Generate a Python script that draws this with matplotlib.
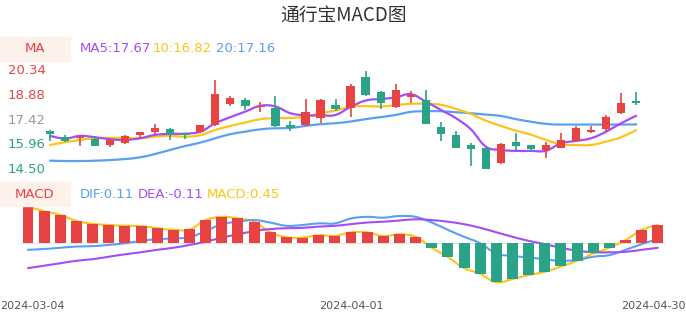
import numpy as np
import matplotlib
matplotlib.use("Agg")
import matplotlib.pyplot as plt
from matplotlib.path import Path
from matplotlib.patches import PathPatch, Rectangle

# candle data (open, close, high, low), 40 trading days
opens = [16.79, 16.43, 16.34, 16.28, 15.96, 16.08, 16.55, 16.71, 16.89, 16.64,
         16.71, 17.13, 18.36, 18.61, 18.18, 18.16, 17.11, 17.13, 17.53, 18.30,
         18.12, 19.99, 19.07, 18.18, 18.77, 18.59, 16.99, 16.52, 15.92, 15.78,
         14.89, 16.12, 15.92, 15.65, 15.75, 16.20, 16.71, 16.91, 17.86, 18.57]
closes = [16.60, 16.18, 16.36, 15.90, 16.24, 16.48, 16.71, 16.93, 16.60, 16.52,
          17.11, 18.97, 18.75, 18.22, 18.25, 17.07, 16.97, 17.88, 18.59, 18.06,
          19.44, 18.93, 18.42, 19.22, 18.91, 17.17, 16.60, 15.75, 15.72, 14.52,
          16.00, 15.88, 15.72, 15.92, 16.24, 16.95, 16.83, 17.62, 18.45, 18.45]
highs = [16.83, 16.54, 16.48, 16.48, 16.26, 16.52, 16.73, 17.17, 16.97, 16.64,
         17.15, 19.80, 18.85, 18.75, 18.51, 18.85, 17.37, 18.67, 18.67, 18.65,
         19.56, 20.34, 19.16, 19.56, 19.15, 19.21, 17.31, 16.77, 16.04, 15.78,
         16.08, 16.67, 15.96, 16.14, 16.64, 17.07, 17.07, 17.72, 19.01, 19.09]
lows = [16.20, 16.14, 15.90, 15.90, 15.84, 16.02, 16.34, 16.60, 16.24, 16.28,
        16.65, 17.09, 18.22, 18.02, 17.90, 17.03, 16.79, 17.09, 17.23, 17.98,
        17.62, 18.85, 18.10, 18.12, 18.45, 17.17, 16.18, 15.75, 14.70, 14.50,
        14.80, 15.65, 15.51, 15.17, 15.75, 16.20, 16.67, 16.73, 17.78, 18.33]

ma5 = [16.48, 16.32, 16.48, 16.40, 16.28, 16.24, 16.34, 16.54, 16.60, 16.61,
       16.73, 17.23, 17.59, 17.92, 18.26, 18.22, 17.82, 17.70, 17.70, 17.72,
       18.20, 18.57, 18.67, 18.75, 18.95, 18.51, 18.02, 17.53, 16.87, 15.84,
       15.65, 15.59, 15.59, 15.60, 16.04, 16.18, 16.34, 16.73, 17.23, 17.67]
ma10 = [15.94, 16.10, 16.24, 16.34, 16.36, 16.36, 16.34, 16.43, 16.48, 16.43,
        16.52, 16.83, 17.07, 17.27, 17.47, 17.53, 17.54, 17.62, 17.82, 17.98,
        18.20, 18.24, 18.22, 18.30, 18.38, 18.38, 18.32, 18.08, 17.78, 17.38,
        17.07, 16.79, 16.55, 16.24, 15.98, 15.94, 15.94, 16.14, 16.40, 16.82]
ma20 = [15.01, 14.99, 14.99, 15.01, 15.05, 15.11, 15.21, 15.41, 15.65, 15.88,
        16.08, 16.34, 16.58, 16.73, 16.87, 16.93, 16.95, 17.07, 17.17, 17.23,
        17.33, 17.47, 17.59, 17.72, 17.90, 17.94, 17.94, 17.88, 17.82, 17.74,
        17.66, 17.47, 17.32, 17.19, 17.15, 17.15, 17.15, 17.15, 17.15, 17.16]

macd = [0.90, 0.79, 0.70, 0.55, 0.48, 0.45, 0.43, 0.42, 0.37, 0.33,
        0.34, 0.57, 0.65, 0.61, 0.53, 0.27, 0.15, 0.14, 0.20, 0.18,
        0.27, 0.27, 0.18, 0.22, 0.16, -0.11, -0.34, -0.61, -0.75, -0.96,
        -0.88, -0.78, -0.70, -0.57, -0.43, -0.25, -0.11, 0.08, 0.33, 0.45]
dif = [-0.16, -0.14, -0.11, -0.08, -0.07, -0.04, 0.00, 0.06, 0.10, 0.12,
       0.15, 0.30, 0.47, 0.53, 0.57, 0.51, 0.43, 0.45, 0.49, 0.49,
       0.61, 0.65, 0.63, 0.67, 0.65, 0.51, 0.33, 0.16, 0.00, -0.25,
       -0.31, -0.35, -0.39, -0.43, -0.41, -0.33, -0.29, -0.16, -0.02, 0.11]
dea = [-0.61, -0.55, -0.49, -0.43, -0.39, -0.33, -0.27, -0.22, -0.16, -0.11,
       -0.04, 0.04, 0.14, 0.22, 0.30, 0.35, 0.37, 0.38, 0.41, 0.43,
       0.47, 0.51, 0.53, 0.56, 0.59, 0.57, 0.53, 0.47, 0.38, 0.27,
       0.16, 0.06, -0.02, -0.11, -0.18, -0.22, -0.22, -0.21, -0.16, -0.11]

x_labels = {0: "2024-03-04", 20: "2024-04-01", 39: "2024-04-30"}
y_ticks = [20.34, 18.88, 17.42, 15.96, 14.50]

RED = "#e84343"
GREEN = "#2aa386"
PURPLE = "#a64cf5"
YELLOW = "#fcc419"
BLUE = "#5aa0f0"

W, H = 686, 320


def fx(px):
    return px / W


def fy(py):
    return 1 - py / H


def smooth_path(xs, ys, t=0.2):
    """Catmull-Rom style bezier through the points (like echarts smooth lines)."""
    xs = np.asarray(xs, float)
    ys = np.asarray(ys, float)
    n = len(xs)
    verts = [(xs[0], ys[0])]
    codes = [Path.MOVETO]
    for i in range(n - 1):
        p0 = i - 1 if i > 0 else i
        p3 = i + 2 if i + 2 < n else i + 1
        c1 = (xs[i] + (xs[i + 1] - xs[p0]) * t, ys[i] + (ys[i + 1] - ys[p0]) * t)
        c2 = (xs[i + 1] - (xs[p3] - xs[i]) * t, ys[i + 1] - (ys[p3] - ys[i]) * t)
        verts += [c1, c2, (xs[i + 1], ys[i + 1])]
        codes += [Path.CURVE4] * 3
    return Path(verts, codes)


def draw_line(ax, xs, ys, color, lw):
    ax.add_patch(PathPatch(smooth_path(xs, ys), fill=False, edgecolor=color,
                           lw=lw, capstyle="round", joinstyle="round"))


fig = plt.figure(figsize=(W / 100, H / 100), dpi=100)
plt.rcParams['font.family'] = ['DejaVu Sans', 'Noto Sans CJK SC']

n = len(closes)
idx = np.arange(n)

# ---- candlestick panel ----
c_left, c_step = 50, 15.03
ax1 = fig.add_axes([fx(c_left - 0.5 * c_step), fy(169.3),
                    40 * c_step / W, (169.3 - 70.7) / H])
ax1.set_xlim(-0.5, 39.5)
ax1.set_ylim(14.50, 20.34)
ax1.axis("off")

o = np.array(opens)
c = np.array(closes)
colors = [RED if c[i] >= o[i] else GREEN for i in range(n)]
ax1.vlines(idx, lows, highs, colors=colors, lw=1.2, zorder=2)
body_h = np.maximum(np.abs(c - o), 0.05)
ax1.bar(idx, body_h, bottom=np.minimum(o, c), width=0.55, color=colors, zorder=3)

draw_line(ax1, idx, ma20, BLUE, 1.6)
draw_line(ax1, idx, ma10, YELLOW, 1.6)
draw_line(ax1, idx, ma5, PURPLE, 1.6)

# ---- MACD panel ----
m_left, m_step = 28, 16.15
zero_y, px_per = 243.3, 40.7
ax2 = fig.add_axes([fx(m_left - 0.5 * m_step), fy(290),
                    40 * m_step / W, 90 / H])
ax2.set_xlim(-0.5, 39.5)
ax2.set_ylim(-(290 - zero_y) / px_per, (zero_y - 200) / px_per)
ax2.axis("off")
ax2.axhline(0, color="#e6e6e6", lw=0.8, zorder=1)
bar_colors = [RED if v >= 0 else GREEN for v in macd]
ax2.bar(idx, macd, width=0.68, color=bar_colors, zorder=2)
draw_line(ax2, idx, macd, YELLOW, 1.5)
draw_line(ax2, idx, dif, BLUE, 1.5)
draw_line(ax2, idx, dea, PURPLE, 1.5)

# ---- texts ----
fig.text(fx(343), fy(15), "通行宝MACD图", ha="center", va="center",
         fontsize=13.5, color="#333333", family=['Noto Sans CJK SC', 'DejaVu Sans'])

for y0, name in [(37, "MA"), (182, "MACD")]:
    fig.patches.append(Rectangle((0, fy(y0 + 24)), fx(70), 24 / H,
                                 transform=fig.transFigure, color="#fdf1ec", zorder=0))
    fig.text(fx(35), fy(y0 + 12), name, ha="center", va="center",
             fontsize=9.5, color=RED)

for px, txt, col in [(80, "MA5:17.67", PURPLE), (153, "10:16.82", YELLOW),
                     (216, "20:17.16", BLUE)]:
    fig.text(fx(px), fy(49), txt, ha="left", va="center", fontsize=9.5, color=col)

for px, txt, col in [(80, "DIF:0.11", BLUE), (138, "DEA:-0.11", PURPLE),
                     (207, "MACD:0.45", YELLOW)]:
    fig.text(fx(px), fy(194), txt, ha="left", va="center", fontsize=9.5, color=col)

tick_colors = [RED, RED, "#999999", GREEN, GREEN]
for v, col in zip(y_ticks, tick_colors):
    fig.text(fx(8), fy(169.3 - (v - 14.50) * (98.6 / 5.84)), f"{v:.2f}",
             ha="left", va="center", fontsize=9.5, color=col)

# date labels: first and last are pushed inside the figure edges
for i, lab in x_labels.items():
    xpos = fx(m_left + i * m_step)
    ha = "center"
    if i == 0:
        xpos, ha = fx(0), "left"
    elif i == n - 1:
        xpos, ha = fx(W - 0.5), "right"
    fig.text(xpos, fy(306), lab, ha=ha, va="center", fontsize=8, color="#555555")

fig.savefig("out.png", dpi=100)
